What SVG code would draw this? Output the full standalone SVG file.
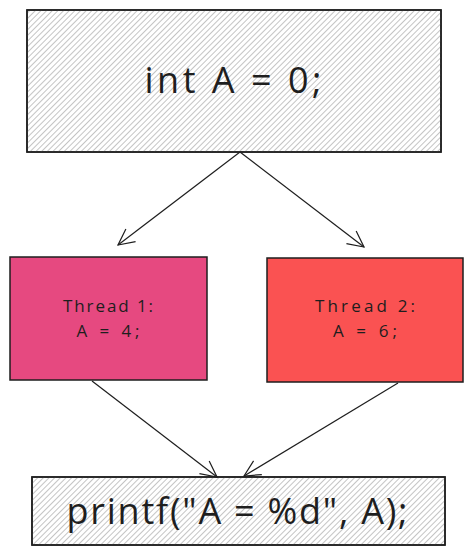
<svg xmlns="http://www.w3.org/2000/svg" width="473" height="555" viewBox="0 0 473 555">
<style>
.box{stroke:#1e1e1e;stroke-width:1.5;}
.hatch{fill:url(#hatch);}
.t{font-family:"Open Sans","Liberation Sans",sans-serif;fill:#1e1e1e;text-anchor:middle;}
.big{font-size:36px;}
.small{font-size:17px;}
.conn{stroke:#1e1e1e;stroke-width:1.2;fill:none;}
</style>
<defs>
<pattern id="hatch" patternUnits="userSpaceOnUse" width="4" height="4" patternTransform="rotate(45)">
<line x1="0" y1="0" x2="0" y2="4" stroke="#8a8a8a" stroke-width="1"/>
</pattern>
<marker id="arr" markerUnits="userSpaceOnUse" markerWidth="30" markerHeight="30" refX="0" refY="0" viewBox="-20 -15 25 30" orient="auto">
<path d="M-16,-8 L0,0 L-16,8" fill="none" stroke="#1e1e1e" stroke-width="1.2"/>
</marker>
</defs>
<g id="node-init">
<rect x="27" y="10" width="414" height="142" fill="#ffffff" class="box"/>
<rect x="27" y="10" width="414" height="142" class="hatch"/>
<rect x="27" y="10" width="414" height="142" fill="none" class="box"/>
<text class="t big" x="233" y="93" textLength="177" lengthAdjust="spacing">int A = 0;</text>
</g>
<g id="node-thread1">
<rect x="10" y="257" width="197" height="123" fill="#e64980" class="box"/>
<text class="t small" x="108" y="312" textLength="90" lengthAdjust="spacing">Thread 1:</text>
<text class="t small" x="108" y="337" textLength="63" lengthAdjust="spacing">A = 4;</text>
</g>
<g id="node-thread2">
<rect x="267" y="258" width="196" height="124" fill="#fa5252" class="box"/>
<text class="t small" x="365" y="312" textLength="100" lengthAdjust="spacing">Thread 2:</text>
<text class="t small" x="365" y="337" textLength="64" lengthAdjust="spacing">A = 6;</text>
</g>
<g id="node-printf">
<rect x="32" y="477" width="413" height="68" fill="#ffffff" class="box"/>
<rect x="32" y="477" width="413" height="68" class="hatch"/>
<rect x="32" y="477" width="413" height="68" fill="none" class="box"/>
<text class="t big" x="237" y="524" textLength="341" lengthAdjust="spacing">printf("A = %d", A);</text>
</g>
<g id="connectors">
<line class="conn" x1="240" y1="152" x2="118" y2="245" marker-end="url(#arr)"/>
<line class="conn" x1="240" y1="152" x2="364" y2="247" marker-end="url(#arr)"/>
<line class="conn" x1="92" y1="381" x2="217" y2="477" marker-end="url(#arr)"/>
<line class="conn" x1="398" y1="383" x2="244" y2="476" marker-end="url(#arr)"/>
</g>
</svg>
